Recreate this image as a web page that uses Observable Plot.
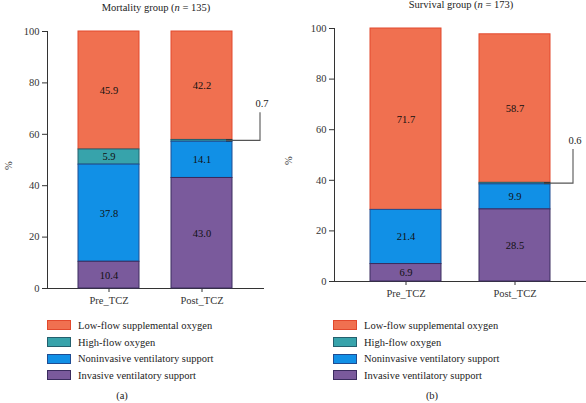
<!DOCTYPE html>
<html><head><meta charset="utf-8">
<script src="https://cdn.jsdelivr.net/npm/d3@7"></script>
<script src="https://cdn.jsdelivr.net/npm/@observablehq/plot@0.6"></script>
<style>
body{margin:0;background:#fff;font-family:"Liberation Serif",serif;}
#wrap{position:relative;width:586px;height:403px;overflow:hidden;background:#fff}
.abs{position:absolute}
.title{font-size:10.5px;color:#222;white-space:nowrap;transform:translateX(-50%);line-height:14px}
.legend{font-size:10.5px;color:#222}
.legend .row{display:flex;align-items:center;height:16.7px;white-space:nowrap}
.legend .sw{width:24px;height:10px;margin-right:7px;box-sizing:border-box;border:1px solid}
.cap{font-size:10.5px;color:#222;transform:translateX(-50%);line-height:14px}
</style></head><body><div id="wrap"></div>
<script>
const categories = ["Low-flow supplemental oxygen","High-flow oxygen","Noninvasive ventilatory support","Invasive ventilatory support"];
const timepoints = ["Pre_TCZ","Post_TCZ"];
const mortalityPre = [45.9, 5.9, 37.8, 10.4];
const mortalityPost = [42.2, 0.7, 14.1, 43.0];
const survivalPre = [71.7, 0, 21.4, 6.9];
const survivalPost = [58.7, 0.6, 9.9, 28.5];
const yTicks = [0, 20, 40, 60, 80, 100];
const yLabel = "%";
const titles = ["Mortality group (<i>n</i> = 135)", "Survival group (<i>n</i> = 173)"];
const captions = ["(a)", "(b)"];
const colors = ["#F07050", "#37A3AB", "#1190E6", "#7A5A9C"];
const strokes = ["#E2482C", "#24606E", "#1F4C92", "#3A2C5E"];

const wrap = document.getElementById("wrap");
const stackOrder = categories.slice().reverse();

function panel(cfg) {
  const data = [];
  timepoints.forEach((t, ti) => {
    const vals = ti === 0 ? cfg.pre : cfg.post;
    categories.forEach((c, ci) => { if (vals[ci] > 0) data.push({time: t, cat: c, value: vals[ci]}); });
  });
  const chart = Plot.plot({
    width: cfg.width, height: cfg.height,
    marginLeft: cfg.ml, marginRight: cfg.mr, marginTop: cfg.mt, marginBottom: cfg.mb,
    style: {fontFamily: "'Liberation Serif', serif", fontSize: "10.5px", color: "#333", background: "transparent", overflow: "visible"},
    x: {domain: timepoints, paddingInner: cfg.pi, paddingOuter: cfg.po, label: null, tickSize: 4, tickPadding: 4, line: true},
    y: {domain: [0, 100], ticks: yTicks, label: null, tickSize: 5, tickPadding: 3, line: true},
    color: {type: "identity"},
    marks: [
      Plot.barY(data, Plot.stackY({
        x: "time", y: "value", z: "cat", order: stackOrder,
        fill: d => colors[categories.indexOf(d.cat)],
        stroke: d => strokes[categories.indexOf(d.cat)],
        strokeWidth: 1
      })),
      Plot.text(data, Plot.stackY({
        x: "time", y: "value", z: "cat", order: stackOrder,
        text: d => d.value >= 1 ? d.value.toFixed(1) : null,
        fill: "#111", fontSize: 10.5
      }))
    ]
  });
  const svg = chart.tagName.toLowerCase() === "svg" ? chart : chart.querySelector("svg");
  const xs = chart.scale("x"), ys = chart.scale("y");
  const g = d3.select(svg).append("g");
  // y-axis title
  const yc = (ys.apply(0) + ys.apply(100)) / 2 + 6;
  g.append("text")
    .attr("transform", `translate(${cfg.labelX},${yc}) rotate(-90)`)
    .attr("text-anchor", "middle").attr("fill", "#333")
    .style("font-size", "10.5px")
    .text(yLabel);
  // callout for the tiny segment in the Post_TCZ bar
  const small = cfg.post[1];
  const below = cfg.post[3] + cfg.post[2];
  const bw = xs.bandwidth !== undefined ? xs.bandwidth : d3.scaleBand(xs.domain, xs.range).paddingInner(cfg.pi).paddingOuter(cfg.po).bandwidth();
  const xRight = xs.apply("Post_TCZ") + bw;
  const yMid = ys.apply(below + small / 2);
  const xTurn = xRight + cfg.reach;
  const yTop = yMid - cfg.rise;
  g.append("path")
    .attr("d", `M${xRight - 6},${yMid}H${xRight}`)
    .attr("stroke", "#1a1a1a").attr("stroke-width", 2).attr("fill", "none");
  g.append("path")
    .attr("d", `M${xRight - 6},${yMid}H${xTurn}V${yTop}`)
    .attr("stroke", "#555").attr("stroke-width", 1.1).attr("fill", "none");
  g.append("text")
    .attr("x", xTurn + 2).attr("y", yTop - 5)
    .attr("text-anchor", "middle")
    .attr("fill", "#222")
    .style("font-size", "10.5px")
    .text(small.toFixed(1));
  chart.style.position = "absolute";
  chart.style.left = cfg.left + "px";
  chart.style.top = "0px";
  wrap.appendChild(chart);

  const t = document.createElement("div");
  t.className = "abs title";
  t.style.left = cfg.titleX + "px"; t.style.top = cfg.titleY + "px";
  t.innerHTML = cfg.title;
  wrap.appendChild(t);

  const lg = document.createElement("div");
  lg.className = "abs legend";
  lg.style.left = cfg.legX + "px"; lg.style.top = "317px";
  categories.forEach((c, i) => {
    const r = document.createElement("div"); r.className = "row";
    const s = document.createElement("div"); s.className = "sw";
    s.style.background = colors[i]; s.style.borderColor = strokes[i];
    const l = document.createElement("span"); l.textContent = c;
    r.appendChild(s); r.appendChild(l); lg.appendChild(r);
  });
  wrap.appendChild(lg);

  const cp = document.createElement("div");
  cp.className = "abs cap";
  cp.style.left = cfg.capX + "px"; cp.style.top = "389px";
  cp.textContent = cfg.caption;
  wrap.appendChild(cp);
}

panel({pre: mortalityPre, post: mortalityPost, left: 0, width: 293, height: 315, ml: 47, mr: 30, mt: 31, mb: 27,
  pi: 0.344, po: 0.333, reach: 28, rise: 28, labelX: 12, title: titles[0], titleX: 156, titleY: 1, legX: 47, capX: 122, caption: captions[0]});
panel({pre: survivalPre, post: survivalPost, left: 280, width: 306, height: 315, ml: 54, mr: 0, mt: 28, mb: 34,
  pi: 0.349, po: 0.33, reach: 23, rise: 34, labelX: 12, title: titles[1], titleX: 461, titleY: -2, legX: 333, capX: 432, caption: captions[1]});
</script></body></html>
